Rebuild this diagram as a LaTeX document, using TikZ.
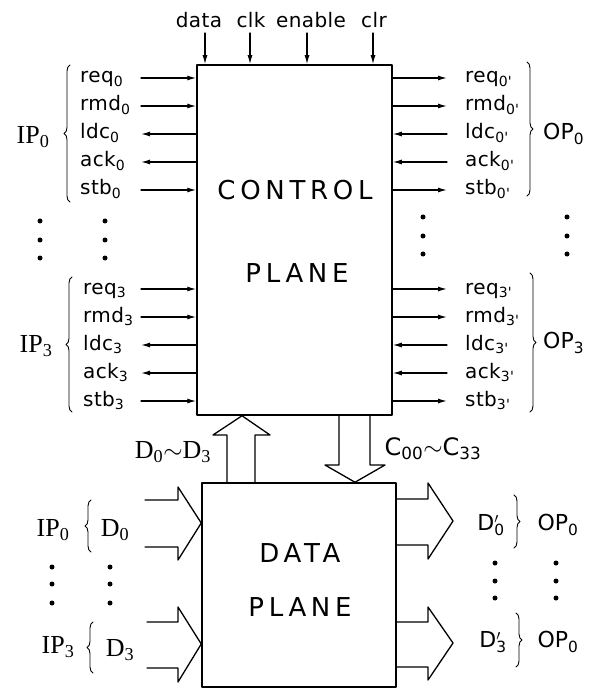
\documentclass[tikz,border=0pt]{standalone}
\usepackage{fontspec}
\setmainfont{Liberation Serif}
\newfontfamily\sigfont[LetterSpace=2]{DejaVu Sans}
\newfontfamily\planefont[LetterSpace=18]{DejaVu Sans}
\newfontfamily\portfont{DejaVu Sans}
\usetikzlibrary{arrows.meta,decorations.pathreplacing}

\begin{document}
\begin{tikzpicture}[x=1pt,y=-1pt,line cap=round,line join=round,
  sig/.style={font=\sigfont\fontsize{20}{20}\selectfont,inner sep=0pt,anchor=base west},
  sigarr/.style={line width=1.2pt,-{Latex[length=9pt,width=5pt]}},
  plane/.style={font=\planefont\fontsize{26}{26}\selectfont,inner sep=0pt},
  blk/.style={draw,line width=1.5pt,inner sep=0pt},
  port/.style={font=\fontsize{26}{26}\selectfont,inner sep=0pt},
  opport/.style={font=\portfont\fontsize{22}{22}\selectfont,inner sep=0pt},
  brc/.style={decorate,decoration={brace,amplitude=6pt},line width=0.9pt},
  hol/.style={line width=1.3pt}]
  \useasboundingbox (0,0) rectangle (597,692);
  % control plane
  \node[blk,minimum width=195pt,minimum height=350pt] (ctrl) at (294.5,240) {};
  \node[plane] (ctrl1) at (295,190) {CONTROL};
  \node[plane] (ctrl2) at (297,273) {PLANE};
  % data plane
  \node[blk,minimum width=194pt,minimum height=204pt] (dat) at (299,585) {};
  \node[plane] (dat1) at (300,553) {DATA};
  \node[plane] (dat2) at (300,607) {PLANE};

  % top inputs
  \foreach \nm/\x/\ax in {data/199/205,clk/251/250,enable/311/307,clr/374/373}{
    \node[sig,anchor=base] (t\nm) at (\x,28) {\nm};
    \coordinate (ta\nm) at (\ax,33);
    \draw[sigarr] (ta\nm) -- (ta\nm |- ctrl.north);
  }

  % handshake lines, ports 0 and 3
  \foreach \g/\oy/\lx in {0/0/80,3/211/83}{
    \foreach \nm/\k in {req/0,rmd/1,ldc/2,ack/3,stb/4}{
      \pgfmathsetmacro\yy{78+\oy+28*\k}
      \node[sig] (l\nm\g) at (\lx,\yy+5) {\nm\textsubscript{\g}};
      \node[sig] (r\nm\g) at (465,\yy+5) {\nm\textsubscript{\g'}};
      \coordinate (la\nm\g) at (141,\yy);
      \coordinate (ra\nm\g) at (447,\yy);
    }
    \foreach \nm in {req,rmd,stb}{
      \draw[sigarr] (la\nm\g) -- (la\nm\g -| ctrl.west);
      \draw[sigarr] (ra\nm\g -| ctrl.east) -- (ra\nm\g);
    }
    \foreach \nm in {ldc,ack}{
      \draw[sigarr] (la\nm\g -| ctrl.west) -- (la\nm\g);
      \draw[sigarr] (ra\nm\g) -- (ra\nm\g -| ctrl.east);
    }
  }

  \draw[brc] (70,202) -- (70,65);
  \node[port] (ip0) at (33,137) {IP\textsubscript{0}};
  \draw[brc] (72,412) -- (72,277);
  \node[port] (ip3) at (36,346) {IP\textsubscript{3}};
  \draw[brc] (527,62) -- (527,196);
  \node[opport,anchor=west] (op0) at (543,134) {OP\textsubscript{0}};
  \draw[brc] (530,273) -- (530,412);
  \node[opport,anchor=west] (op3) at (543,343) {OP\textsubscript{3}};

  \foreach \x/\y in {40/221,40/240,40/258,105/221,105/240,105/258,
                     423/217,423/236,423/254,567/217,567/236,567/254,
                     52/567,52/584,52/603,110/567,110/584,110/603,
                     495/563,495/581,495/598,556/563,556/581,556/598}
    \fill (\x,\y) circle (2.5pt);

  % buses between the planes
  \draw[hol] (227,0 |- dat.north) -- (227,435) -- (213,435) -- (242,0 |- ctrl.south)
    -- (270,435) -- (255,435) -- (255,0 |- dat.north);
  \node[port,font=\fontsize{26}{26}\selectfont] (dbus) at (173,452) {D\textsubscript{0}$\sim$D\textsubscript{3}};
  \draw[hol] (339,0 |- ctrl.south) -- (339,465) -- (325,465) -- (355,0 |- dat.north)
    -- (385,465) -- (370,465) -- (370,0 |- ctrl.south);
  \node[opport,font=\portfont\fontsize{24}{24}\selectfont] (cbus) at (433,449) {C\textsubscript{00}$\sim$C\textsubscript{33}};

  % data in
  \draw[hol] (145,500) -- (178,500) -- (178,487) -- (dat.west |- 0,523)
    -- (178,560) -- (178,547) -- (145,547);
  \draw[hol] (147,622) -- (178,622) -- (178,607) -- (dat.west |- 0,644)
    -- (178,682) -- (178,668) -- (147,668);
  \node[port] (ipd0) at (53,530) {IP\textsubscript{0}};
  \draw[brc] (91,552) -- (91,500);
  \node[port] (d0) at (115,530) {D\textsubscript{0}};
  \node[port] (ipd3) at (58,647) {IP\textsubscript{3}};
  \draw[brc] (93,673) -- (93,622);
  \node[port] (d3) at (120,650) {D\textsubscript{3}};

  % data out
  \draw[hol] (dat.east |- 0,499) -- (428,499) -- (428,483) -- (453,521)
    -- (428,559) -- (428,545) -- (dat.east |- 0,545);
  \draw[hol] (dat.east |- 0,622) -- (428,622) -- (428,607) -- (453,643)
    -- (428,680) -- (428,667) -- (dat.east |- 0,667);
  \node[opport] (dq0) at (491,525) {D\makebox[0pt][l]{\textsuperscript{$\prime$}}\textsubscript{0}};
  \draw[brc] (514,495) -- (514,548);
  \node[opport] (opd0) at (558,525) {OP\textsubscript{0}};
  \node[opport] (dq3) at (493,642) {D\makebox[0pt][l]{\textsuperscript{$\prime$}}\textsubscript{3}};
  \draw[brc] (516,613) -- (516,667);
  \node[opport] (opd3) at (558,642) {OP\textsubscript{0}};
\end{tikzpicture}
\end{document}
